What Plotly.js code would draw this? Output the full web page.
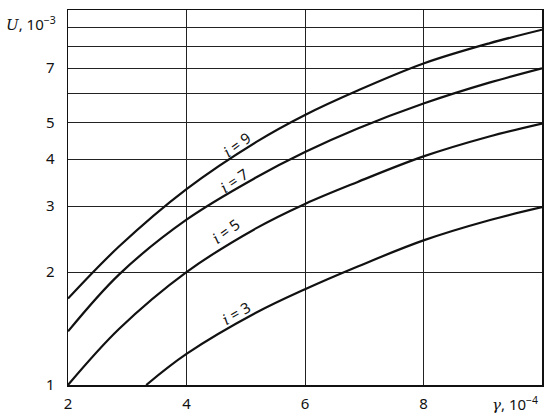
<!DOCTYPE html>
<html>
<head>
<meta charset="utf-8">
<script src="https://cdn.plot.ly/plotly-3.0.1.min.js"></script>
<style>html,body{margin:0;padding:0;background:#fff;}#chart{width:550px;height:419px;}</style>
</head>
<body>
<div id="chart"></div>
<script>
// gamma, 10^-4
const gamma = [2, 2.86, 4, 5.18, 6, 6.89, 8, 9.11, 10];
const gamma3 = [3.32, 4, 5.18, 6, 6.89, 8, 9.11, 10];
// U, 10^-3
const U_i9 = [1.70, 2.34, 3.33, 4.45, 5.25, 6.10, 7.20, 8.15, 8.86];
const U_i7 = [1.39, 1.97, 2.76, 3.58, 4.18, 4.83, 5.63, 6.40, 6.99];
const U_i5 = [1.00, 1.41, 2.00, 2.62, 3.04, 3.48, 4.07, 4.60, 4.98];
const U_i3 = [1.00, 1.21, 1.56, 1.80, 2.07, 2.43, 2.75, 2.98];

const xTicks = [2, 4, 6, 8];
const yGrid = [1, 2, 3, 4, 5, 6, 7, 8, 9];
const yLabels = ['1', '2', '3', '4', '5', '', '7', '', ''];

const mathI = '<span style="font-family:DejaVu Serif"><i>i</i></span>';
const curveLabels = [
  {text: mathI + '&nbsp;=&nbsp;9', x: 4.86, u: 4.38, angle: -36},
  {text: mathI + '&nbsp;=&nbsp;7', x: 4.81, u: 3.52, angle: -34},
  {text: mathI + '&nbsp;=&nbsp;5', x: 4.66, u: 2.57, angle: -36},
  {text: mathI + '&nbsp;=&nbsp;3', x: 4.83, u: 1.56, angle: -30}
];

const lineStyle = {color: '#111', width: 2.2, shape: 'spline', smoothing: 1};
const traces = [
  {x: gamma, y: U_i9, mode: 'lines', line: lineStyle, hoverinfo: 'skip'},
  {x: gamma, y: U_i7, mode: 'lines', line: lineStyle, hoverinfo: 'skip'},
  {x: gamma, y: U_i5, mode: 'lines', line: lineStyle, hoverinfo: 'skip'},
  {x: gamma3, y: U_i3, mode: 'lines', line: lineStyle, hoverinfo: 'skip'}
];

const fontFam = 'Noto Sans, sans-serif';
const annotations = curveLabels.map(c => ({
  text: c.text, x: c.x, y: Math.log10(c.u), xref: 'x', yref: 'y',
  showarrow: false, textangle: c.angle,
  font: {family: fontFam, size: 15, color: '#111'}
}));
annotations.push({
  text: '<span style="font-family:DejaVu Serif"><i>U</i></span>, 10<sup>−3</sup>', xref: 'paper', yref: 'paper',
  x: -0.135, y: 0.965, xanchor: 'left', yanchor: 'middle', showarrow: false,
  font: {family: fontFam, size: 15, color: '#111'}
});
annotations.push({
  text: '<span style="font-family:DejaVu Serif"><i>γ</i></span>, 10<sup>−4</sup>', xref: 'paper', yref: 'paper',
  x: 0.995, y: -0.048, xanchor: 'right', yanchor: 'middle', showarrow: false,
  font: {family: fontFam, size: 15, color: '#111'}
});

const layout = {
  width: 550, height: 419,
  margin: {l: 68, r: 8, t: 10, b: 34},
  paper_bgcolor: '#fff', plot_bgcolor: '#fff',
  showlegend: false,
  font: {family: fontFam, size: 15, color: '#111'},
  xaxis: {
    range: [2, 10], tickvals: xTicks, ticktext: xTicks.map(String),
    showgrid: true, gridcolor: '#222', gridwidth: 1,
    showline: true, linecolor: '#111', linewidth: 1.5, mirror: true,
    zeroline: false, ticks: '', ticklabelstandoff: 4,
    tickfont: {family: fontFam, size: 15, color: '#111'}
  },
  yaxis: {
    type: 'log', range: [0, 1], tickvals: yGrid, ticktext: yLabels,
    showgrid: true, gridcolor: '#222', gridwidth: 1,
    showline: true, linecolor: '#111', linewidth: 1.5, mirror: true,
    zeroline: false, ticks: '', ticklabelstandoff: 9,
    tickfont: {family: fontFam, size: 15, color: '#111'}
  },
  annotations: annotations
};

Plotly.newPlot('chart', traces, layout, {staticPlot: true, displayModeBar: false});
</script>
</body>
</html>
